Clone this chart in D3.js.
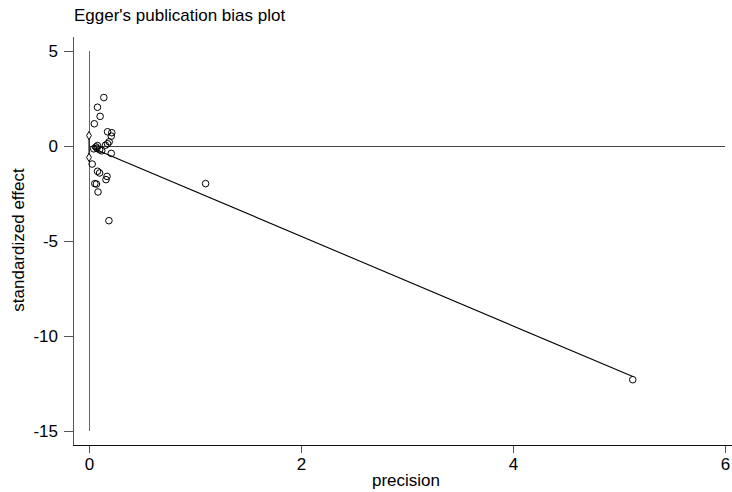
<html><head>
<script src="https://d3js.org/d3.v7.min.js"></script>
<style>
  body { margin: 0; background: #fff; }
  svg text { font-family: "Liberation Sans", Arial, sans-serif; fill: #000; }
  .axis .domain { display: none; }
  .axis line { stroke: #555; shape-rendering: crispEdges; }
  .axis text { font-size: 17px; }
  .crisp { shape-rendering: crispEdges; }
</style>
</head>
<body>
<svg id="chart" width="732" height="492"></svg>
<script>
  // study points: precision (1/se) and standardized effect (theta/se)
  const precision = [0.14, 0.08, 0.105, 0.05, 0.175, 0.215, 0.21, 0.19, 0.175, 0.155,
                     0.08, 0.065, 0.045, 0.075, 0.10, 0.12, 0.21, 0.03, 0.08, 0.10,
                     0.17, 0.16, 0.055, 0.07, 0.085, 0.188, 1.10, 5.13];
  const stdEffect = [2.55, 2.04, 1.56, 1.17, 0.75, 0.70, 0.52, 0.22, 0.12, 0.04,
                     0.02, -0.05, -0.15, -0.12, -0.20, -0.25, -0.39, -0.95, -1.33, -1.42,
                     -1.60, -1.77, -1.98, -2.00, -2.42, -3.93, -1.98, -12.30];

  // Egger fit and CI of the intercept (bias)
  const fitIntercept = -0.03;
  const fitSlope = -2.36;
  const biasCI = [-0.6, 0.55];

  const xTicks = [0, 2, 4, 6];
  const yTicks = [-15, -10, -5, 0, 5];

  const svg = d3.select("#chart");
  const x = d3.scaleLinear().domain([0, 6]).range([89, 725]);
  const y = d3.scaleLinear().domain([-15, 5]).range([431, 51]);

  const plotLeft = 73, plotBottom = 445, plotTop = 37, plotRight = 732;

  // title
  svg.append("text").attr("x", 74).attr("y", 21)
    .style("font-size", "17px").text("Egger's publication bias plot");

  // axes
  svg.append("g").attr("class", "axis")
    .attr("transform", "translate(" + plotLeft + ",0)")
    .call(d3.axisLeft(y).tickValues(yTicks).tickSize(9).tickPadding(6).tickFormat(d => String(d)));
  svg.append("g").attr("class", "axis")
    .attr("transform", "translate(0," + plotBottom + ")")
    .call(d3.axisBottom(x).tickValues(xTicks).tickSize(8).tickPadding(5).tickFormat(d => String(d)));

  svg.append("line").attr("class", "crisp")
    .attr("x1", plotLeft).attr("x2", plotLeft).attr("y1", plotTop).attr("y2", plotBottom)
    .attr("stroke", "#555");
  svg.append("line").attr("class", "crisp")
    .attr("x1", plotLeft).attr("x2", plotRight).attr("y1", plotBottom).attr("y2", plotBottom)
    .attr("stroke", "#111");

  // axis titles
  svg.append("text").attr("x", 406).attr("y", 486).attr("text-anchor", "middle")
    .style("font-size", "17px").text("precision");
  svg.append("text").attr("transform", "translate(24,240) rotate(-90)").attr("text-anchor", "middle")
    .style("font-size", "17px").text("standardized effect");

  // reference lines
  svg.append("line").attr("class", "crisp")
    .attr("x1", x(0)).attr("x2", x(0)).attr("y1", y(5)).attr("y2", y(-15))
    .attr("stroke", "#666");
  svg.append("line").attr("class", "crisp")
    .attr("x1", x(0)).attr("x2", x(6)).attr("y1", y(0)).attr("y2", y(0))
    .attr("stroke", "#444");

  // fitted line
  const pMin = d3.min(precision), pMax = d3.max(precision);
  svg.append("line")
    .attr("x1", x(pMin)).attr("y1", y(fitIntercept + fitSlope * pMin))
    .attr("x2", x(pMax)).attr("y2", y(fitIntercept + fitSlope * pMax))
    .attr("stroke", "#000").attr("stroke-width", 1.1);

  // bias CI on y axis
  svg.append("line").attr("x1", x(0)).attr("x2", x(0))
    .attr("y1", y(biasCI[0])).attr("y2", y(biasCI[1])).attr("stroke", "#000");
  svg.selectAll(".ci").data(biasCI).enter().append("path")
    .attr("d", d3.symbol(d3.symbolDiamond, 20))
    .attr("transform", d => "translate(" + x(0) + "," + y(d) + ")")
    .attr("fill", "#fff").attr("stroke", "#000");

  // points
  svg.selectAll(".pt").data(precision).enter().append("circle")
    .attr("cx", d => x(d))
    .attr("cy", (d, i) => y(stdEffect[i]))
    .attr("r", 3.3)
    .attr("fill", "none").attr("stroke", "#000").attr("stroke-width", 1);
</script>
</body>
</html>
